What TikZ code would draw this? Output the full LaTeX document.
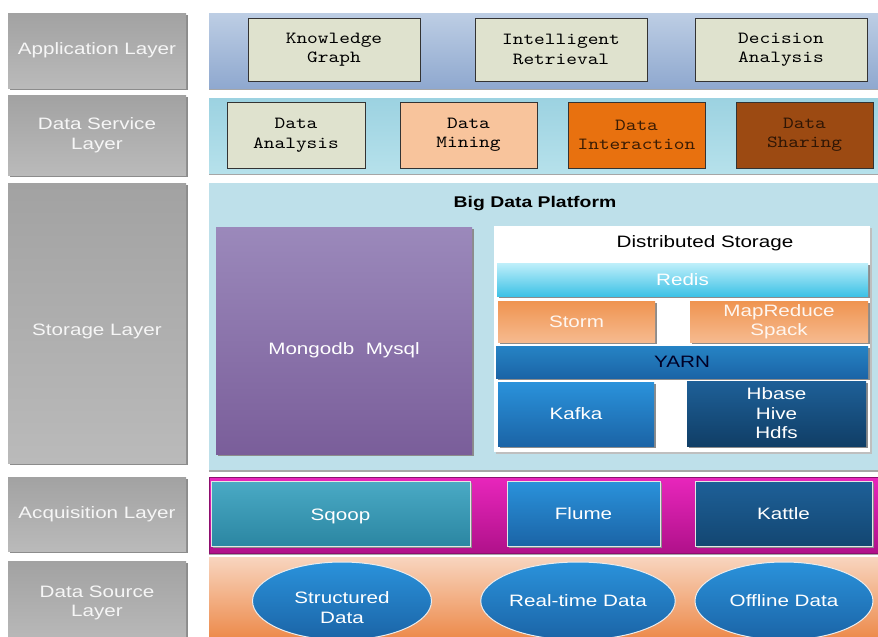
\documentclass[tikz,border=0pt]{standalone}
\usepackage{fontspec}
\usepackage{tikz}
\usetikzlibrary{shapes.geometric}
\usetikzlibrary{shadows}
\newfontfamily\laysf[FakeStretch=1.25]{Liberation Sans}
\newfontfamily\boxtt[FakeStretch=1.2]{lmmono10-regular.otf}
\newcommand\laysize{\fontsize{16.5}{19.5}\selectfont}
\newcommand\boxsize{\fontsize{17}{19.5}\selectfont}
\definecolor{grayTop}{HTML}{A2A2A2}
\definecolor{grayBot}{HTML}{BABABA}
\definecolor{appTop}{HTML}{BDCEE4}
\definecolor{appBot}{HTML}{8FA8CF}
\definecolor{srvTop}{HTML}{9CD2E1}
\definecolor{srvBot}{HTML}{B6E1EB}
\definecolor{stoFill}{HTML}{BEE0EA}
\definecolor{acqTop}{HTML}{E826BC}
\definecolor{acqBot}{HTML}{B0118A}
\definecolor{srcTop}{HTML}{F8D5BF}
\definecolor{srcBot}{HTML}{EC8441}
\definecolor{beige}{HTML}{DFE2CE}
\definecolor{peach}{HTML}{F8C49C}
\definecolor{orng}{HTML}{E8710F}
\definecolor{brwn}{HTML}{9C4A12}
\definecolor{mgTop}{HTML}{9B89BB}
\definecolor{mgBot}{HTML}{7A5E9A}
\definecolor{rdTop}{HTML}{BFEFFA}
\definecolor{rdBot}{HTML}{3EC2E6}
\definecolor{stTop}{HTML}{EF9450}
\definecolor{stBot}{HTML}{F6BA8F}
\definecolor{blTop}{HTML}{2A92DB}
\definecolor{blBot}{HTML}{1B64A6}
\definecolor{dkTop}{HTML}{1E6098}
\definecolor{dkBot}{HTML}{103E66}
\definecolor{tlTop}{HTML}{4AAAC5}
\definecolor{tlBot}{HTML}{2B86A2}

\begin{document}
\begin{tikzpicture}[x=1pt,y=-1pt]
\tikzstyle{sh}=[drop shadow={shadow xshift=1.5pt,shadow yshift=-1.5pt,fill=black!45,opacity=1}]
\tikzstyle{lay}=[rectangle,sh,minimum width=178pt,inner sep=0pt,align=center,top color=grayTop,bottom color=grayBot,text=white!93!gray,font=\laysf\laysize]
\tikzstyle{panel}=[rectangle,minimum width=669pt,inner sep=0pt,drop shadow={shadow xshift=0pt,shadow yshift=-2pt,fill=black!35,opacity=1}]
\tikzstyle{tbox}=[rectangle,draw=black!80,line width=0.8pt,inner sep=0pt,align=center,font=\boxtt\boxsize]
\tikzstyle{cell}=[rectangle,sh,draw=white!80!gray,line width=0.6pt,inner sep=0pt,align=center,text=white,font=\laysf\laysize]
\tikzstyle{src}=[ellipse,draw=white!85!gray,line width=1pt,inner sep=0pt,minimum width=179pt,minimum height=78pt,top color=blTop,bottom color=blBot,align=center,text=white,font=\laysf\laysize]
\useasboundingbox (0,0) rectangle (878,637);
\node[lay, minimum height=75pt]		(appL)	at (97,50.5)	{Application Layer};
\node[lay, minimum height=80pt]		(srvL)	at (97,135)	{Data Service\\Layer};
\node[lay, minimum height=280pt, text height=28pt]	(stoL)	at (97,323)	{Storage Layer};
\node[lay, minimum height=74pt]		(acqL)	at (97,514)	{Acquisition Layer};
\node[lay, minimum height=84pt]		(srcL)	at (97,603)	{Data Source\\Layer};
\node[panel, minimum height=75pt, top color=appTop, bottom color=appBot]	(appP)	at (543.5,50.5)	{};
\node[panel, minimum height=75pt, top color=srvTop, bottom color=srvBot]	(srvP)	at (543.5,135.5)	{};
\node[panel, minimum height=287pt, fill=stoFill]	(stoP)	at (543.5,326.5)	{};
\node[panel, minimum height=76pt, top color=acqTop, bottom color=acqBot, draw=acqBot!80!black, line width=1pt]	(acqP)	at (543.5,515)	{};
\node[panel, minimum height=88pt, top color=srcTop, bottom color=srcBot]	(srcP)	at (543.5,601)	{};
\node[tbox, fill=beige, minimum width=172pt, minimum height=63pt]	(kg)	at (334,49.5)	{Knowledge\\Graph};
\node[tbox, fill=beige, minimum width=172pt, minimum height=63pt]	(ir)	at (561,49.5)	{Intelligent\\Retrieval};
\node[tbox, fill=beige, minimum width=172pt, minimum height=63pt]	(dec)	at (781,49.5)	{Decision\\Analysis};
\node[tbox, fill=beige, minimum width=138pt, minimum height=66pt]	(dan)	at (296,135)	{Data\\Analysis};
\node[tbox, fill=peach, minimum width=137pt, minimum height=66pt]	(dmi)	at (468.5,135)	{Data\\Mining};
\node[tbox, fill=orng, text=black!75!orng, minimum width=137pt, minimum height=66pt]	(din)	at (636.5,135)	{Data\\Interaction};
\node[tbox, fill=brwn, text=black!70!brwn, minimum width=137pt, minimum height=66pt]	(dsh)	at (804.5,135)	{Data\\Sharing};
\node[font=\laysf\fontsize{15.5}{18}\selectfont\bfseries]	(bdp)	at (535,204)	{Big Data Platform};
\node[cell, draw=none, top color=mgTop, bottom color=mgBot, minimum width=256pt, minimum height=227pt, text height=32pt]	(mongo)	at (344,340.5)	{Mongodb\ \ Mysql};
\node[rectangle, fill=white, drop shadow={shadow xshift=1.5pt,shadow yshift=-1.5pt,fill=black!25,opacity=1}, minimum width=376pt, minimum height=226pt]	(dist)	at (682,339)	{};
\node[font=\laysf\laysize]	(distT)	at (705,243)	{Distributed Storage};
\node[cell, draw=none, top color=rdTop, bottom color=rdBot, minimum width=371pt, minimum height=33pt]	(redis)	at (682.5,279.5)	{Redis};
\node[cell, draw=none, top color=stTop, bottom color=stBot, text=white!85!peach, minimum width=157pt, minimum height=41pt]	(storm)	at (576.5,321.5)	{Storm};
\node[cell, draw=none, top color=stTop, bottom color=stBot, text=white!85!peach, minimum width=178pt, minimum height=41pt]	(mapr)	at (779,321.5)	{MapReduce\\Spack};
\node[cell, draw=none, top color=blTop!90!black, bottom color=blBot, text=black!85!blue, minimum width=372pt, minimum height=32pt]	(yarn)	at (682,362)	{YARN};
\node[cell, draw=none, top color=blTop, bottom color=blBot, minimum width=156pt, minimum height=64pt]	(kafka)	at (576,414)	{Kafka};
\node[cell, draw=none, top color=dkTop, bottom color=dkBot, minimum width=179pt, minimum height=65pt]	(hbase)	at (776.5,413.5)	{Hbase\\Hive\\Hdfs};
\node[cell, top color=tlTop, bottom color=tlBot, minimum width=259pt, minimum height=65pt, text height=18pt]	(sqoop)	at (340.5,513.5)	{Sqoop};
\node[cell, top color=blTop, bottom color=blBot, minimum width=153pt, minimum height=65pt]	(flume)	at (583.5,513.5)	{Flume};
\node[cell, top color=dkTop, bottom color=dkBot!90!blTop, minimum width=177pt, minimum height=65pt]	(kattle)	at (783.5,513.5)	{Kattle};
\node[src, text height=45pt]	(sdata)	at (342,601)	{Structured\\Data};
\node[src, minimum width=180pt]	(rdata)	at (578,601)	{Real-time Data};
\node[src, minimum width=178pt]	(odata)	at (784,601)	{Offline Data};
\end{tikzpicture}
\end{document}
